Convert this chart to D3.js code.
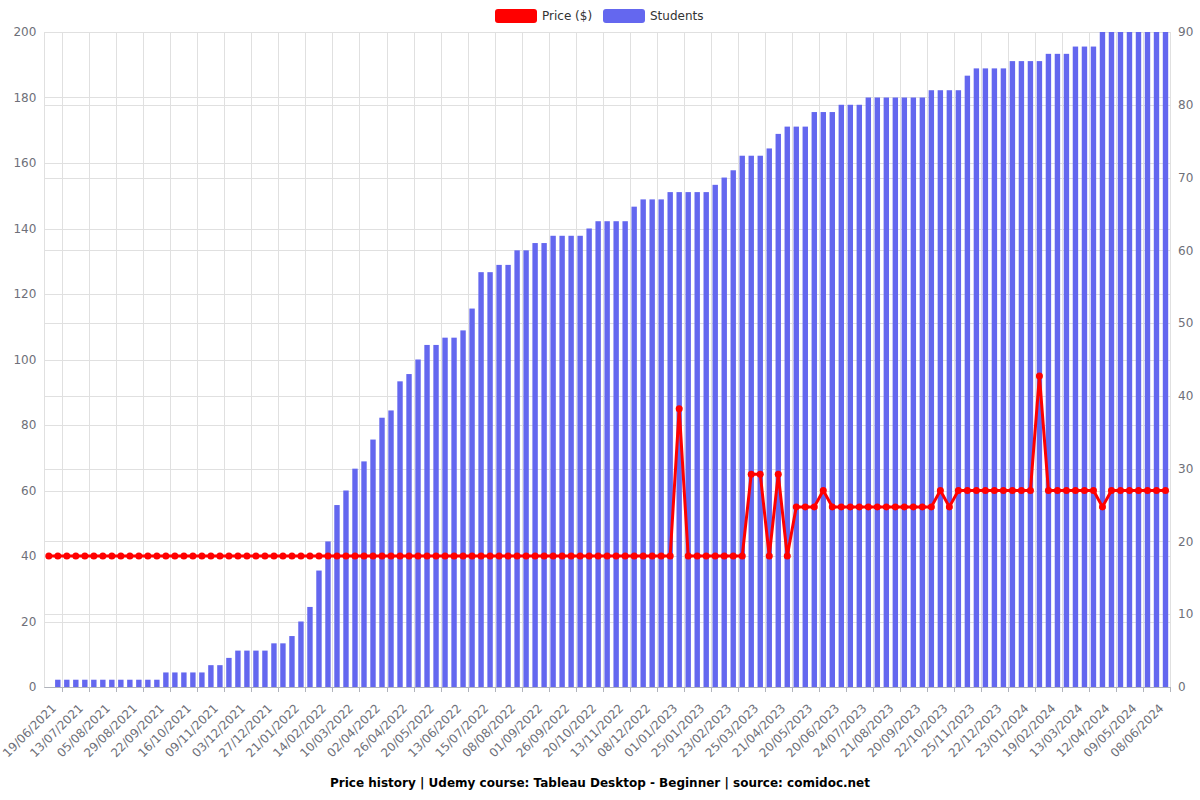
<!DOCTYPE html>
<html>
<head>
<meta charset="utf-8">
<script src="https://cdn.jsdelivr.net/npm/d3@7/dist/d3.min.js"></script>
<style>
  html, body { margin: 0; padding: 0; background: #ffffff; }
  svg { display: block; font-family: "DejaVu Sans", sans-serif; }
</style>
</head>
<body>
<svg id="chart" width="1200" height="800"></svg>
<script>
const dates = [
  "11/06/2021","19/06/2021","27/06/2021","05/07/2021","13/07/2021","21/07/2021","28/07/2021","05/08/2021","13/08/2021","21/08/2021",
  "29/08/2021","06/09/2021","14/09/2021","22/09/2021","30/09/2021","08/10/2021","16/10/2021","24/10/2021","01/11/2021","09/11/2021",
  "17/11/2021","25/11/2021","03/12/2021","11/12/2021","19/12/2021","27/12/2021","04/01/2022","13/01/2022","21/01/2022","29/01/2022",
  "06/02/2022","14/02/2022","22/02/2022","02/03/2022","10/03/2022","18/03/2022","25/03/2022","02/04/2022","10/04/2022","18/04/2022",
  "26/04/2022","04/05/2022","12/05/2022","20/05/2022","28/05/2022","05/06/2022","13/06/2022","24/06/2022","04/07/2022","15/07/2022",
  "23/07/2022","31/07/2022","08/08/2022","16/08/2022","24/08/2022","01/09/2022","09/09/2022","18/09/2022","26/09/2022","04/10/2022",
  "12/10/2022","20/10/2022","28/10/2022","05/11/2022","13/11/2022","22/11/2022","30/11/2022","08/12/2022","16/12/2022","24/12/2022",
  "01/01/2023","09/01/2023","17/01/2023","25/01/2023","04/02/2023","14/02/2023","23/02/2023","05/03/2023","15/03/2023","25/03/2023",
  "03/04/2023","12/04/2023","21/04/2023","01/05/2023","10/05/2023","20/05/2023","30/05/2023","10/06/2023","20/06/2023","01/07/2023",
  "12/07/2023","24/07/2023","02/08/2023","11/08/2023","21/08/2023","31/08/2023","10/09/2023","20/09/2023","30/09/2023","11/10/2023",
  "22/10/2023","02/11/2023","14/11/2023","25/11/2023","04/12/2023","13/12/2023","22/12/2023","02/01/2024","13/01/2024","23/01/2024",
  "01/02/2024","10/02/2024","19/02/2024","27/02/2024","05/03/2024","13/03/2024","23/03/2024","02/04/2024","12/04/2024","21/04/2024",
  "30/04/2024","09/05/2024","19/05/2024","29/05/2024","08/06/2024"
];

const students = [
  0,1,1,1,1,1,1,1,1,1,
  1,1,1,2,2,2,2,2,3,3,
  4,5,5,5,5,6,6,7,9,11,
  16,20,25,27,30,31,34,37,38,42,
  43,45,47,47,48,48,49,52,57,57,
  58,58,60,60,61,61,62,62,62,62,
  63,64,64,64,64,66,67,67,67,68,
  68,68,68,68,69,70,71,73,73,73,
  74,76,77,77,77,79,79,79,80,80,
  80,81,81,81,81,81,81,81,82,82,
  82,82,84,85,85,85,85,86,86,86,
  86,87,87,87,88,88,88,90,90,90,
  90,90,90,90,90
];

const price = [
  40,40,40,40,40,40,40,40,40,40,
  40,40,40,40,40,40,40,40,40,40,
  40,40,40,40,40,40,40,40,40,40,
  40,40,40,40,40,40,40,40,40,40,
  40,40,40,40,40,40,40,40,40,40,
  40,40,40,40,40,40,40,40,40,40,
  40,40,40,40,40,40,40,40,40,40,
  85,40,40,40,40,40,40,40,65,65,
  40,65,40,55,55,55,60,55,55,55,
  55,55,55,55,55,55,55,55,55,60,
  55,60,60,60,60,60,60,60,60,60,
  95,60,60,60,60,60,60,55,60,60,
  60,60,60,60,60
];

const priceTicks = [0,20,40,60,80,100,120,140,160,180,200];
const studentTicks = [0,10,20,30,40,50,60,70,80,90];
const seriesNames = ["Price ($)", "Students"];
const titleText = "Price history | Udemy course: Tableau Desktop - Beginner | source: comidoc.net";

const svg = d3.select("#chart");
const L = 44.3, R = 1170, T = 32, B = 687;
const red = "#ff0000", blue = "#6467ef", grid = "#e0e0e0", axisText = "#6e7079";

const x = d3.scaleBand().domain(d3.range(dates.length)).range([L, R]).padding(0);
const yP = d3.scaleLinear().domain([0, 200]).range([B, T]);
const yS = d3.scaleLinear().domain([0, 90]).range([B, T]);
const bw = x.bandwidth();
const cx = i => x(i) + bw / 2;

// horizontal grid
svg.append("g").selectAll("line").data(priceTicks).join("line")
  .attr("x1", L).attr("x2", R).attr("y1", d => Math.round(yP(d)) + 0.5).attr("y2", d => Math.round(yP(d)) + 0.5)
  .attr("stroke", grid).attr("stroke-width", 1);
svg.append("g").selectAll("line").data(studentTicks).join("line")
  .attr("x1", L).attr("x2", R).attr("y1", d => Math.round(yS(d)) + 0.5).attr("y2", d => Math.round(yS(d)) + 0.5)
  .attr("stroke", grid).attr("stroke-width", 1);

// label indices (every third, starting from 1)
const labelIdx = d3.range(1, dates.length, 3);

// vertical grid
const vx = [L].concat(labelIdx.map(i => x(i) + bw));
svg.append("g").selectAll("line").data(vx).join("line")
  .attr("x1", d => Math.round(d) + 0.5).attr("x2", d => Math.round(d) + 0.5)
  .attr("y1", T).attr("y2", B)
  .attr("stroke", grid).attr("stroke-width", 1);

// bars
const barW = bw * 0.6;
svg.append("g").selectAll("rect").data(students).join("rect")
  .attr("x", (d, i) => cx(i) - barW / 2)
  .attr("y", d => yS(d))
  .attr("width", barW)
  .attr("height", d => B - yS(d))
  .attr("fill", blue);

// x axis line and ticks
svg.append("line").attr("x1", L).attr("x2", R).attr("y1", B + 0.5).attr("y2", B + 0.5)
  .attr("stroke", "#b0b3bb").attr("stroke-width", 1);
svg.append("g").selectAll("line").data(vx.slice(1)).join("line")
  .attr("x1", d => Math.round(d) + 0.5).attr("x2", d => Math.round(d) + 0.5)
  .attr("y1", B).attr("y2", B + 5)
  .attr("stroke", "#b0b3bb").attr("stroke-width", 1);

// x labels
svg.append("g").selectAll("text").data(labelIdx).join("text")
  .attr("transform", i => `translate(${cx(i) - 4},${B + 19}) rotate(-45)`)
  .attr("text-anchor", "end")
  .attr("dy", "0.35em")
  .attr("font-size", 12)
  .attr("fill", axisText)
  .text(i => dates[i]);

// left axis labels
svg.append("g").selectAll("text").data(priceTicks).join("text")
  .attr("x", L - 8).attr("y", d => yP(d)).attr("dy", "0.35em")
  .attr("text-anchor", "end").attr("font-size", 12).attr("fill", axisText)
  .text(d => d);

// right axis labels
svg.append("g").selectAll("text").data(studentTicks).join("text")
  .attr("x", R + 8).attr("y", d => yS(d)).attr("dy", "0.35em")
  .attr("text-anchor", "start").attr("font-size", 12).attr("fill", axisText)
  .text(d => d);

// price line
const line = d3.line().x((d, i) => cx(i)).y(d => yP(d));
svg.append("path").datum(price).attr("d", line)
  .attr("fill", "none").attr("stroke", red).attr("stroke-width", 3).attr("stroke-linejoin", "bevel");
svg.append("g").selectAll("circle").data(price).join("circle")
  .attr("cx", (d, i) => cx(i)).attr("cy", d => yP(d)).attr("r", 3.5)
  .attr("fill", red);

// legend
const legend = svg.append("g");
const lg = [{name: seriesNames[0], color: red, x: 495}, {name: seriesNames[1], color: blue, x: 603}];
lg.forEach(l => {
  legend.append("rect").attr("x", l.x).attr("y", 9).attr("width", 42).attr("height", 14).attr("rx", 3)
    .attr("fill", l.color);
  legend.append("text").attr("x", l.x + 47).attr("y", 16).attr("dy", "0.35em")
    .attr("font-size", 12).attr("fill", "#333").text(l.name);
});

// title
svg.append("text").attr("x", 600).attr("y", 783).attr("dy", "0.35em")
  .attr("text-anchor", "middle").attr("font-size", 12).attr("font-weight", "bold")
  .attr("fill", "#000").text(titleText);
</script>
</body>
</html>
